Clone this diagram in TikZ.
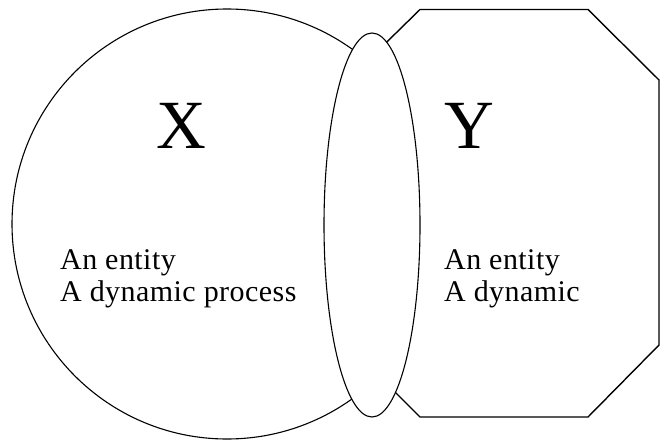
\documentclass[tikz,border=0pt]{standalone}
\usepackage{fontspec}
\setmainfont{Liberation Serif}
\usetikzlibrary{shapes.geometric}
\begin{document}
\begin{tikzpicture}[x=1pt,y=1pt,
  outline/.style={draw=black,line width=1.1pt,fill=white},
  octo/.style={draw=black,line width=1.4pt,fill=white,line join=miter},
  bigletter/.style={anchor=base,inner sep=0pt,font=\fontsize{69}{80}\selectfont},
  smalltext/.style={anchor=base west,inner sep=0pt,font=\fontsize{30}{34}\selectfont\addfontfeatures{LetterSpace=1.5}}]
\useasboundingbox (0,0) rectangle (660,440);
% circle X
\node[outline,circle,minimum size=430pt,inner sep=0pt] (circ) at (227,216) {};
% octagon Y
\draw[octo] (420,430.5) -- (588,430.5) -- (659,360) -- (659,95) -- (588,23) -- (420,23) -- (348,95) -- (348,360) -- cycle;
% overlap ellipse
\node[outline,ellipse,minimum width=96pt,minimum height=384pt,inner sep=0pt] (lens) at (372,215) {};
% labels
\node[bigletter] (xlab) at (181,292) {X};
\node[bigletter] (ylab) at (469,292) {Y};
\node[smalltext] (xent) at (60,171) {An entity};
\node[smalltext] (xproc) at (60,138.3) {A dynamic process};
\node[smalltext] (yent) at (444,171) {An entity};
\node[smalltext] (ydyn) at (444,138.3) {A dynamic};
\end{tikzpicture}
\end{document}
